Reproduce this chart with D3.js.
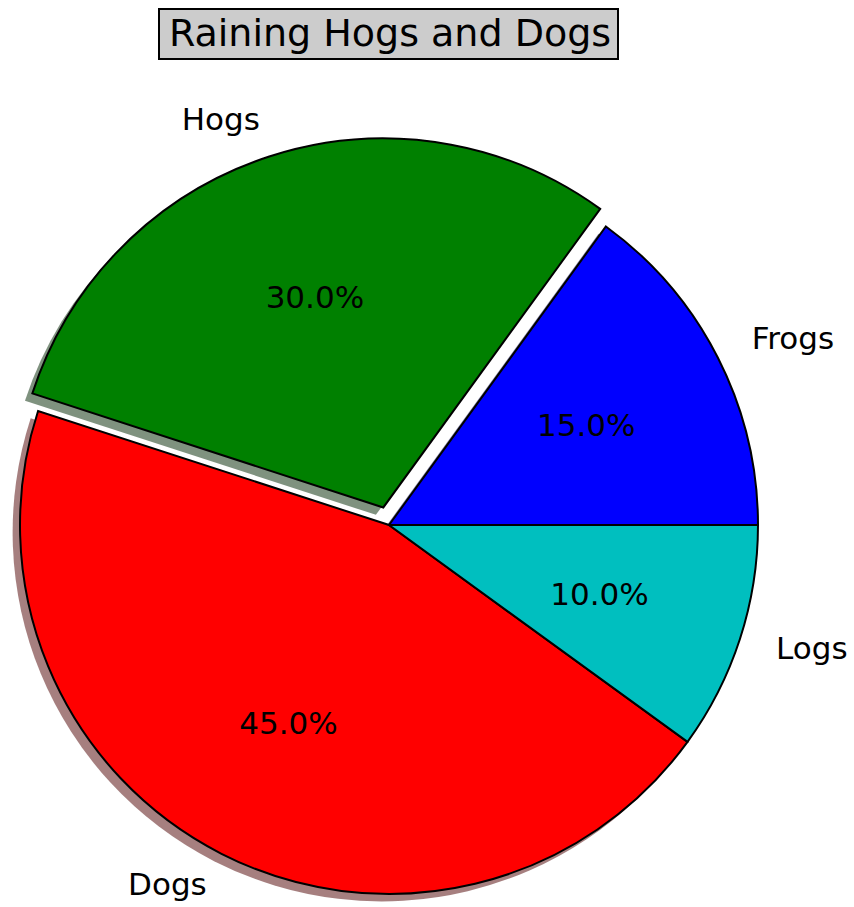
<!DOCTYPE html>
<html>
<head>
<meta charset="utf-8">
<script src="https://cdn.jsdelivr.net/npm/d3@7"></script>
<style>
  html, body { margin: 0; padding: 0; background: #fff; }
  svg { display: block; font-family: "DejaVu Sans", sans-serif; }
</style>
</head>
<body>
<svg id="chart" width="854" height="907"></svg>
<script>
const labels = ["Frogs", "Hogs", "Dogs", "Logs"];
const values = [15, 30, 45, 10];
const colors = ["#0000ff", "#008000", "#ff0000", "#00bfbf"];
const explode = [0, 0.05, 0, 0];
const title = "Raining Hogs and Dogs";

const W = 854, H = 907;
const cx = 389, cy = 525, R = 369;
const svg = d3.select("#chart");

const data = labels.map((l, i) => ({label: l, value: values[i], color: colors[i], explode: explode[i]}));
const total = d3.sum(values);

// matplotlib: start at 3 o'clock, counterclockwise
const pie = d3.pie().value(d => d.value).sort(null)
  .startAngle(Math.PI / 2).endAngle(Math.PI / 2 - 2 * Math.PI);
const arcs = pie(data);
const arc = d3.arc().innerRadius(0).outerRadius(R);

function offsetOf(a, dist) {
  const mid = (a.startAngle + a.endAngle) / 2;
  return [dist * Math.sin(mid), -dist * Math.cos(mid)];
}

const g = svg.append("g").attr("transform", `translate(${cx},${cy})`);

// shadows (behind all wedges)
const sh = 0.02 * R;
g.append("g").selectAll("path").data(arcs).join("path")
  .attr("transform", d => {
    const [ox, oy] = offsetOf(d, d.data.explode * R);
    return `translate(${ox - sh},${oy + sh})`;
  })
  .attr("d", arc)
  .attr("fill", d => {
    const c = d3.rgb(d.data.color);
    return d3.rgb(c.r * 0.3, c.g * 0.3, c.b * 0.3).toString();
  })
  .attr("fill-opacity", 0.5);

// wedges
g.append("g").selectAll("path").data(arcs).join("path")
  .attr("transform", d => {
    const [ox, oy] = offsetOf(d, d.data.explode * R);
    return `translate(${ox},${oy})`;
  })
  .attr("d", arc)
  .attr("fill", d => d.data.color)
  .attr("stroke", "#000")
  .attr("stroke-width", 2)
  .attr("stroke-linejoin", "miter");

// labels
g.append("g").selectAll("text").data(arcs).join("text")
  .attr("x", d => {
    const [ox] = offsetOf(d, d.data.explode * R);
    const [lx] = offsetOf(d, 1.1 * R);
    return ox + lx + (offsetOf(d, 1)[0] > 0 ? 1 : 2);
  })
  .attr("y", d => {
    const [, oy] = offsetOf(d, d.data.explode * R);
    const [, ly] = offsetOf(d, 1.1 * R);
    return oy + ly;
  })
  .attr("dy", "0.28em")
  .attr("text-anchor", d => offsetOf(d, 1)[0] > 0 ? "start" : "end")
  .attr("font-size", 31)
  .attr("fill", "#000")
  .text(d => d.data.label);

// percentages
g.append("g").selectAll("text").data(arcs).join("text")
  .attr("x", d => {
    const [ox] = offsetOf(d, d.data.explode * R);
    const [px] = offsetOf(d, 0.6 * R);
    return ox + px;
  })
  .attr("y", d => {
    const [, oy] = offsetOf(d, d.data.explode * R);
    const [, py] = offsetOf(d, 0.6 * R);
    return oy + py;
  })
  .attr("dy", "0.37em")
  .attr("text-anchor", "middle")
  .attr("font-size", 31)
  .attr("fill", "#000")
  .text(d => (d.data.value / total * 100).toFixed(1) + "%");

// title
svg.append("rect")
  .attr("x", 159).attr("y", 9).attr("width", 459).attr("height", 50)
  .attr("fill", "#cccccc").attr("stroke", "#000").attr("stroke-width", 2);
svg.append("text")
  .attr("x", 390).attr("y", 46)
  .attr("text-anchor", "middle")
  .attr("font-size", 38)
  .attr("fill", "#000")
  .text(title);
</script>
</body>
</html>
